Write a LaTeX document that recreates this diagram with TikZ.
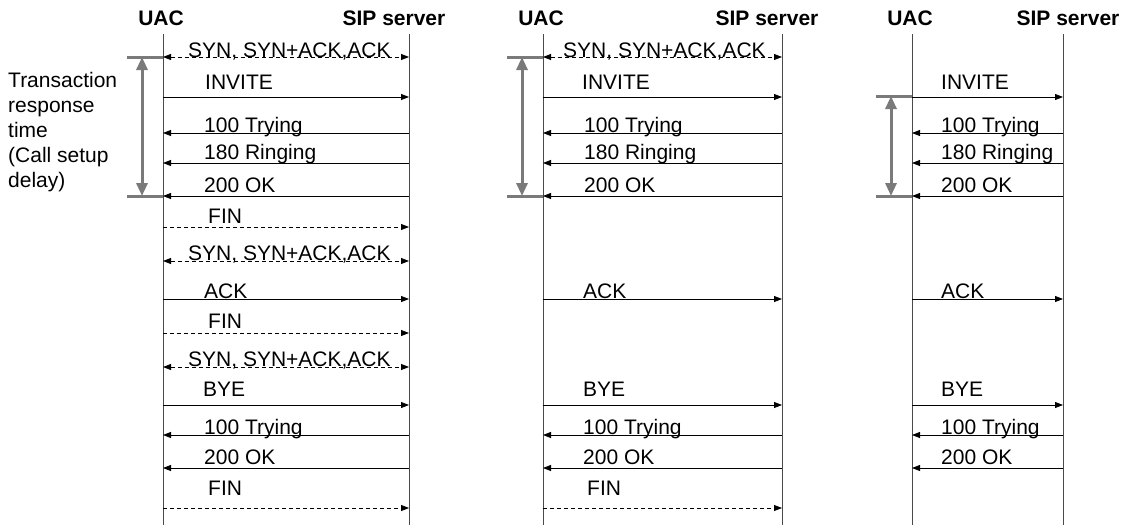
\documentclass[tikz,border=0pt]{standalone}
\usepackage{fontspec}
\setmainfont{Liberation Sans}
\usepackage{xcolor}
\usepackage{tikz}
\usetikzlibrary{
  arrows.meta,
  positioning,
}
\definecolor{bargray}{HTML}{7A7A7A}
\definecolor{linegray}{HTML}{4A4A4A}

\begin{document}
\begin{tikzpicture}[
    x=1pt, y=-1pt,
    every node/.style={inner sep=0pt, font=\fontsize{21}{25}\selectfont},
    head/.style={anchor=base, font=\fontsize{21}{25}\selectfont\bfseries},
    msg/.style={anchor=base west},
    life/.style={draw=linegray, line width=0.9pt},
    req/.style={-{Triangle[length=8pt,width=6pt]}, line width=0.8pt},
    resp/.style={{Triangle[length=8pt,width=6pt]}-, line width=0.8pt},
    tcp/.style={{Triangle[length=8pt,width=6pt]}-{Triangle[length=8pt,width=6pt]},
                line width=0.8pt, dash pattern=on 4pt off 3pt},
    fin/.style={-{Triangle[length=8pt,width=6pt]}, line width=0.8pt,
                dash pattern=on 4pt off 3pt},
    tick/.style={draw=bargray, line width=3pt},
    bar/.style={draw=bargray, line width=3pt,
                {Triangle[length=13pt,width=11pt]}-{Triangle[length=13pt,width=11pt]}},
  ]
  \useasboundingbox (0,0) rectangle (1121,525);

  % Headers and lifelines
  \foreach \p/\ux/\sx/\uh/\sh in {1/163/409/161/394, 2/543/782/541/767, 3/912/1063/910/1068} {
    \node[head] (uac\p) at (\uh,25) {UAC};
    \node[head] (sip\p) at (\sh,25) {SIP server};
    \coordinate (ut\p) at (\ux,34);
    \coordinate (ub\p) at (\ux,525);
    \coordinate (st\p) at (\sx,34);
    \coordinate (sb\p) at (\sx,525);
    \draw[life] (ut\p) -- (ub\p);
    \draw[life] (st\p) -- (sb\p);
  }

  % Panel 1: new TCP connection per transaction
  \foreach \y/\ty/\dx/\kind/\txt in {
      57/57/25/tcp/{SYN, SYN+ACK,ACK},
      97/89/42/req/INVITE,
      133/132/41/resp/100 Trying,
      163/159/41/resp/180 Ringing,
      196/192/41/resp/200 OK,
      227/223/45/fin/FIN,
      261/260/25/tcp/{SYN, SYN+ACK,ACK},
      299/298/41/req/ACK,
      333/328/45/fin/FIN,
      367/366/25/tcp/{SYN, SYN+ACK,ACK},
      405/396/40/req/BYE,
      435/434/41/resp/100 Trying,
      468/464/41/resp/200 OK,
      508/495/45/fin/FIN} {
    \coordinate (a1-\y) at (163,\y);
    \coordinate (b1-\y) at (409,\y);
    \draw[\kind] (a1-\y) -- (b1-\y);
    \node[msg] (m1-\y) at (163+\dx,\ty) {\txt};
  }

  % Panel 2: one TCP connection for the whole call
  \foreach \y/\ty/\dx/\kind/\txt in {
      57/57/20/tcp/{SYN, SYN+ACK,ACK},
      97/89/39/req/INVITE,
      133/132/41/resp/100 Trying,
      163/159/41/resp/180 Ringing,
      196/192/41/resp/200 OK,
      299/298/40/req/ACK,
      405/396/40/req/BYE,
      435/434/40/resp/100 Trying,
      468/464/40/resp/200 OK,
      508/495/44/fin/FIN} {
    \coordinate (a2-\y) at (543,\y);
    \coordinate (b2-\y) at (782,\y);
    \draw[\kind] (a2-\y) -- (b2-\y);
    \node[msg] (m2-\y) at (543+\dx,\ty) {\txt};
  }

  % Panel 3: existing connection
  \foreach \y/\ty/\dx/\kind/\txt in {
      97/89/29/req/INVITE,
      133/132/29/resp/100 Trying,
      163/159/29/resp/180 Ringing,
      196/192/29/resp/200 OK,
      299/298/29/req/ACK,
      405/396/29/req/BYE,
      435/434/29/resp/100 Trying,
      468/464/29/resp/200 OK} {
    \coordinate (a3-\y) at (912,\y);
    \coordinate (b3-\y) at (1063,\y);
    \draw[\kind] (a3-\y) -- (b3-\y);
    \node[msg] (m3-\y) at (912+\dx,\ty) {\txt};
  }

  % Transaction response time bars
  \foreach \p/\ux/\top/\bot in {1/163/57/196, 2/543/57/196, 3/912/96/196} {
    \coordinate (tl\p) at (\ux-36,\top);
    \coordinate (tr\p) at (\ux,\top);
    \coordinate (bl\p) at (\ux-36,\bot);
    \coordinate (br\p) at (\ux,\bot);
    \draw[tick] (tl\p) -- (tr\p);
    \draw[tick] (bl\p) -- (br\p);
    \coordinate (bt\p) at (\ux-21,\top);
    \coordinate (bb\p) at (\ux-21,\bot);
    \draw[bar] (bt\p) -- (bb\p);
  }

  \node[anchor=north west, align=left] (delay) at (8,72)
    {Transaction\\response\\time\\(Call setup\\delay)};
\end{tikzpicture}
\end{document}
